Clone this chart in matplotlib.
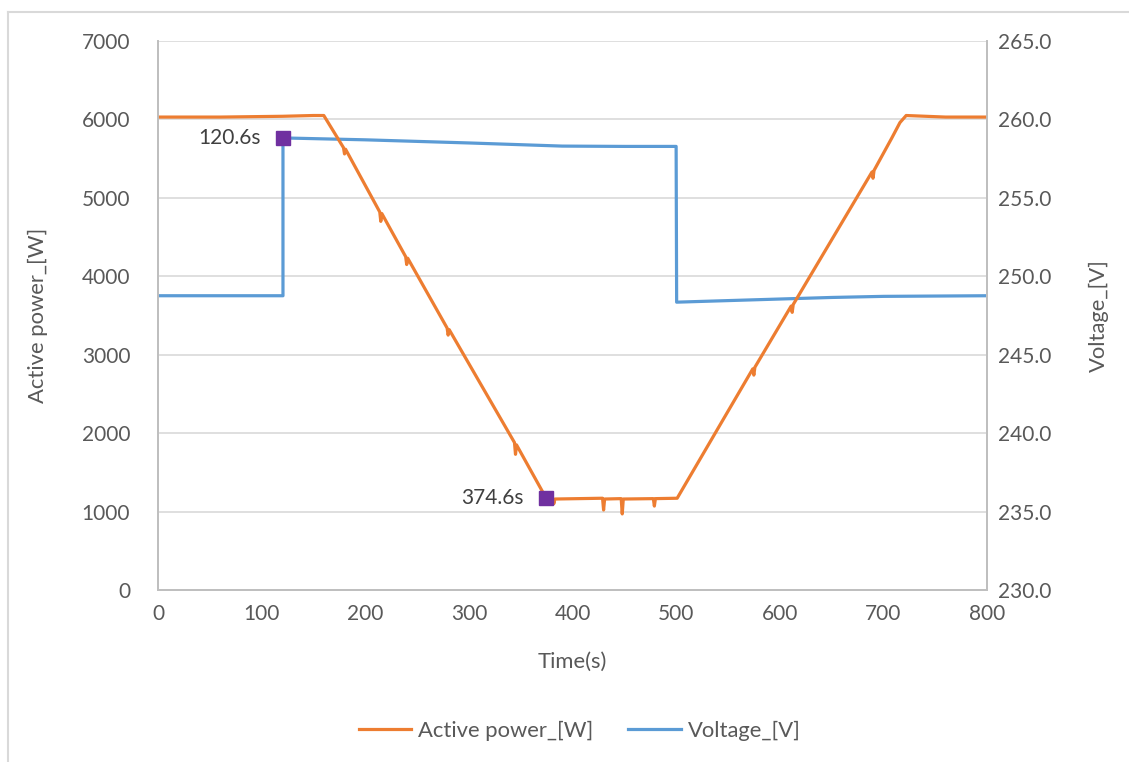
import matplotlib
matplotlib.use('Agg')
import matplotlib.pyplot as plt
from matplotlib.lines import Line2D

plt.rcParams['font.family'] = ['Lato', 'DejaVu Sans']

# Active power (left axis), breakpoints
power_t = [0, 60, 120, 150, 160, 179, 180, 181, 214, 215, 216, 239, 240, 241,
           279, 280, 281, 344, 345, 346, 374.6, 381, 382, 383, 429, 430, 431,
           447, 448, 449, 478, 479, 480, 501, 574, 575, 576, 611, 612, 613,
           689, 690, 691, 708, 716, 722, 760, 800]
power_w = [6030, 6030, 6040, 6050, 6050, 5640, 5560, 5620, 4820, 4700, 4800,
           4250, 4150, 4230, 3340, 3250, 3320, 1880, 1730, 1850, 1170, 1160,
           1100, 1160, 1170, 1020, 1160, 1165, 970, 1160, 1165, 1070, 1165,
           1170, 2820, 2740, 2840, 3620, 3540, 3640, 5330, 5250, 5350, 5760,
           5960, 6050, 6030, 6030]

# Voltage (right axis)
volt_t = [0, 60, 120.6, 120.6, 200, 300, 390, 450, 500, 500.5, 550, 600,
          650, 700, 800]
volt_v = [248.76, 248.76, 248.76, 258.82, 258.7, 258.5, 258.3, 258.28, 258.28,
          248.35, 248.45, 248.55, 248.65, 248.72, 248.76]

marker_power = (374.6, 1170)
marker_volt = (120.6, 258.82)

orange = '#ED7D31'
blue = '#5B9BD5'
purple = '#7030A0'
txt = '#595959'
fs = 15
fs_lab = 15.8

fig = plt.figure(figsize=(11.29, 7.62), dpi=100)
pos = [158 / 1129, 1 - 590 / 762, (987 - 158) / 1129, (590 - 41) / 762]
ax2 = fig.add_axes(pos)
ax = ax2.twinx()
ax.yaxis.tick_left()
ax.yaxis.set_label_position('left')
ax2.yaxis.tick_right()
ax2.yaxis.set_label_position('right')
ax.set_zorder(ax2.get_zorder() + 1)
ax.patch.set_visible(False)

# voltage on the bottom axes with the gridlines
ax2.plot(volt_t, volt_v, color=blue, lw=2.3)
ax2.plot(*marker_volt, marker='s', ms=10, color=purple, zorder=5)
ax2.set_ylim(230, 265)
ax2.set_yticks(range(230, 266, 5))
ax2.set_yticklabels([f'{v:.1f}' for v in range(230, 266, 5)])
ax2.grid(axis='y', color='#D9D9D9', lw=1.2)
ax2.set_axisbelow(True)

ax.plot(power_t, power_w, color=orange, lw=2.3)
ax.plot(*marker_power, marker='s', ms=10, color=purple, zorder=5)
ax.set_ylim(0, 7000)
ax.set_yticks(range(0, 7001, 1000))
ax.set_xlim(0, 800)
ax2.set_xlim(0, 800)
ax2.set_xticks(range(0, 801, 100))

ax.annotate('120.6s', xy=marker_volt, xycoords=ax2.transData,
            xytext=(-16, 0), textcoords='offset points',
            ha='right', va='center', fontsize=fs, color='#404040')
ax.annotate('374.6s', xy=marker_power, xytext=(-16, 0),
            textcoords='offset points', ha='right', va='center',
            fontsize=fs, color='#404040')

for a in (ax, ax2):
    for s in a.spines.values():
        s.set_color('#BFBFBF')
        s.set_linewidth(1.3)
    a.spines['top'].set_visible(False)
    a.tick_params(length=0, labelsize=fs, labelcolor=txt)
ax.tick_params(axis='y', pad=20)
ax2.tick_params(axis='y', pad=8)
ax2.tick_params(axis='x', pad=10)

ax.set_ylabel('Active power_[W]', fontsize=fs_lab, color=txt, labelpad=24)
ax2.set_ylabel('Voltage_[V]', fontsize=fs_lab, color=txt, labelpad=27)
ax2.set_xlabel('Time(s)', fontsize=fs_lab, color=txt, labelpad=20)

handles = [Line2D([], [], color=orange, lw=2.3),
           Line2D([], [], color=blue, lw=2.3)]
fig.legend(handles, ['Active power_[W]', 'Voltage_[V]'], loc='center',
           bbox_to_anchor=(0.5 + 15 / 1129, 1 - 731 / 762), ncol=2,
           frameon=False, fontsize=fs_lab, labelcolor=txt, handlelength=2.4,
           handletextpad=0.3, columnspacing=1.6)

# chart area border (left and top edges visible)
fig.add_artist(Line2D([8 / 1129, 8 / 1129], [0, 1 - 12 / 762],
                      color='#D9D9D9', lw=1.5, transform=fig.transFigure))
fig.add_artist(Line2D([8 / 1129, 1], [1 - 12 / 762, 1 - 12 / 762],
                      color='#D9D9D9', lw=1.5, transform=fig.transFigure))

fig.savefig('out.png', dpi=100)
